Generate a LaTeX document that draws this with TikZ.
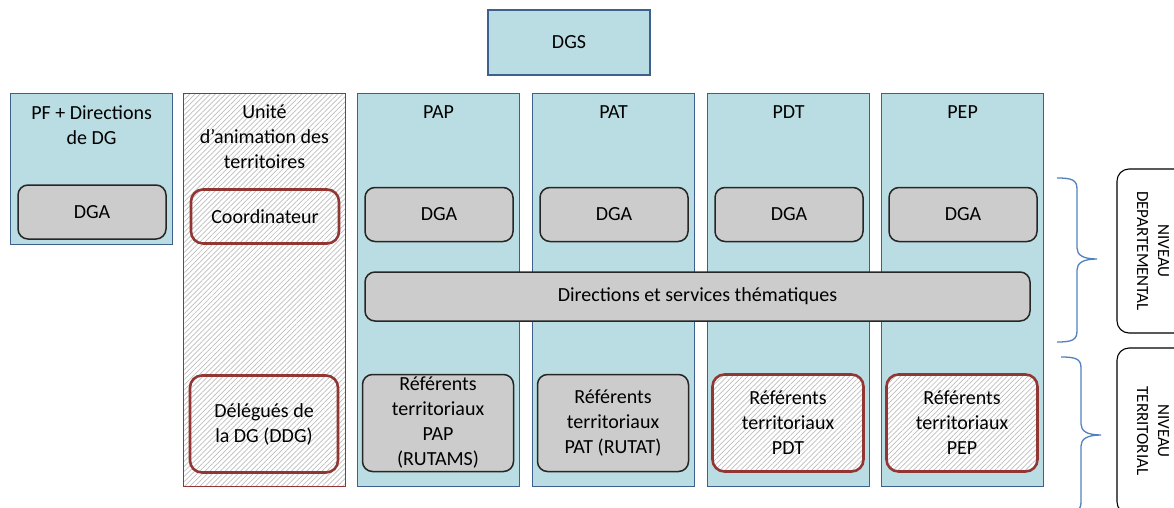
\documentclass[tikz,border=0pt]{standalone}
\usepackage{fontspec}
\setmainfont{Carlito}
\usetikzlibrary{positioning,patterns.meta}

\definecolor{polefill}{RGB}{185,221,226}
\definecolor{poleline}{RGB}{62,96,140}
\definecolor{boxgray}{RGB}{204,204,204}
\definecolor{boxline}{RGB}{38,38,38}
\definecolor{redline}{RGB}{146,54,52}
\definecolor{hatchgray}{RGB}{190,190,190}
\definecolor{braceblue}{RGB}{79,129,189}

\tikzset{
  pole/.style={draw=poleline, fill=polefill, line width=1.2pt, inner sep=0pt, minimum width=162pt},
  column/.style={pole, anchor=north west},
  hatch/.style={preaction={fill=white}, pattern={Lines[angle=45, distance=3.6pt, line width=0.7pt]}, pattern color=hatchgray},
  poletitle/.style={align=center, inner sep=0pt},
  graybox/.style={draw=boxline, fill=boxgray, line width=1.5pt, rounded corners=10pt, align=center, inner sep=0pt, minimum width=148pt, minimum height=54pt},
  redbox/.style={hatch, draw=redline, line width=2.6pt, rounded corners=12pt, align=center, inner sep=0pt, minimum width=148pt, minimum height=54pt},
  lvlbox/.style={draw=black, fill=white, line width=1.1pt, rounded corners=12pt, align=center, rotate=-90, font=\fontsize{17}{21}\selectfont},
  levelbrace/.style={draw=braceblue, line width=1.3pt},
}

\begin{document}
\begin{tikzpicture}[x=1pt, y=-1pt, font=\fontsize{20}{25}\selectfont]
\useasboundingbox (0,0) rectangle (1174,508);
\clip (0,0) rectangle (1174,508);

% === DGS ===
\node[pole, minimum height=65pt] (DGS) at (569,42.5) {DGS};

% === PF + Directions de DG ===
\node[column, minimum height=151pt] (PF) at (10,93) {};
\node[poletitle, below=12pt of PF.north] (PF-title) {PF + Directions\\de DG};
\node[graybox] (PF-DGA) at (92,212) {DGA};

% === Unite d'animation des territoires ===
\node[column, hatch, draw=redline, line width=1pt, minimum height=393pt] (UAT) at (183,93) {};
\node[poletitle, below=12pt of UAT.north] (UAT-title) {Unité\\d’animation des\\territoires};
\node[redbox] (UAT-coord) at (265,216.5) {Coordinateur};
\node[redbox, minimum height=97pt] (UAT-DDG) at (264,424) {Délégués de\\la DG (DDG)};

% === Poles ===
\foreach \x/\pole/\refstyle/\reftext in {
    357/PAP/graybox/{Référents\\territoriaux\\PAP\\(RUTAMS)},
    532/PAT/graybox/{Référents\\territoriaux\\PAT (RUTAT)},
    707/PDT/redbox/{Référents\\territoriaux\\PDT},
    881/PEP/redbox/{Référents\\territoriaux\\PEP}}{
  \node[column, minimum height=393pt] (\pole) at (\x,93) {};
  \node[poletitle, below=12pt of \pole.north] (\pole-title) {\pole};
  \node[graybox] (\pole-DGA) at (\x+82,214.5) {DGA};
  \node[\refstyle, minimum width=151pt, minimum height=97pt] (\pole-ref) at (\x+81,423) {\reftext};
}

% === Directions ===
\node[graybox, minimum width=665pt, minimum height=49pt] (DST) at (697.5,296.5) {Directions et services thématiques};

% === Niveaux ===
\node[lvlbox, minimum width=164pt, minimum height=72pt] (DEP) at (1153,251) {NIVEAU\\DEPARTEMENTAL};
\node[lvlbox, minimum width=166pt, minimum height=72pt] (TER) at (1153,431) {NIVEAU\\TERRITORIAL};

\coordinate (DEP-brace) at (1057,178);
\coordinate (TER-brace) at (1061,357);
\draw[levelbrace] (DEP-brace) .. controls +(15,0) and +(0,-9) .. ++(20,11) -- ++(0,59)
  .. controls +(0,7) and +(-14,0) .. ++(20,11) .. controls +(-14,0) and +(0,-7) .. ++(-20,11)
  -- ++(0,61) .. controls +(0,9) and +(15,0) .. ++(-20,11);
\draw[levelbrace] (TER-brace) .. controls +(15,0) and +(0,-9) .. ++(20,11) -- ++(0,56)
  .. controls +(0,7) and +(-14,0) .. ++(20,11) .. controls +(-14,0) and +(0,-7) .. ++(-20,11)
  -- ++(0,56) .. controls +(0,9) and +(15,0) .. ++(-20,11);
\end{tikzpicture}
\end{document}
